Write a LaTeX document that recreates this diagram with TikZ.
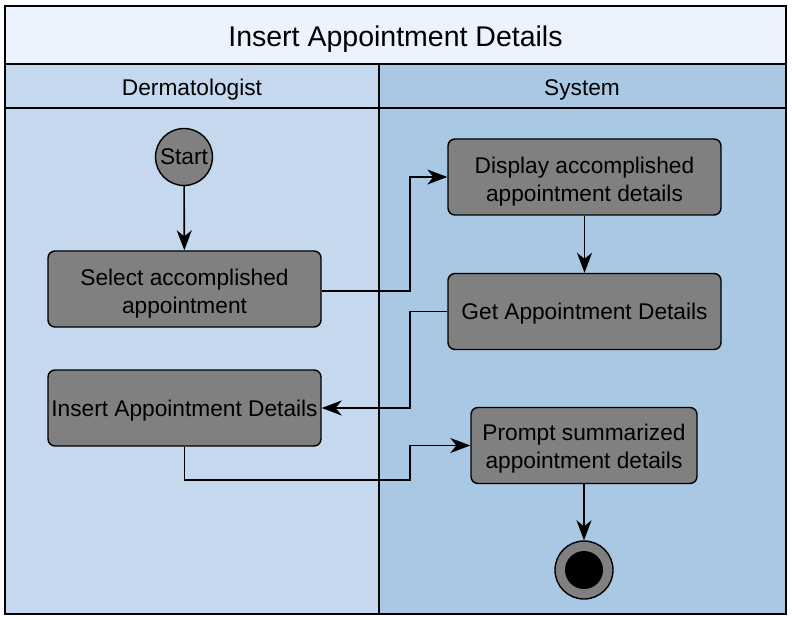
\documentclass[tikz,border=0pt]{standalone}
\usepackage{fontspec}
\setmainfont{Liberation Sans}
\usetikzlibrary{arrows.meta}
\definecolor{titlebg}{HTML}{EBF3FF}
\definecolor{leftlane}{HTML}{C5D8ED}
\definecolor{rightlane}{HTML}{A9C8E3}
\definecolor{actgray}{HTML}{808080}
\begin{document}
\begin{tikzpicture}[x=1pt,y=-1pt,
  act/.style={draw=black, line width=1.4pt, fill=actgray, rounded corners=7pt,
    minimum width=273pt, minimum height=76pt, inner sep=0pt},
  acttxt/.style={align=center, inner sep=0pt, font=\fontsize{22.7}{28}\selectfont},
  lanetxt/.style={font=\fontsize{22.7}{26}\selectfont},
  arr/.style={draw=black, line width=1.6pt, -{Stealth[length=20pt,width=15pt,inset=6pt]}},
  frame/.style={draw=black, line width=1.6pt}]
\useasboundingbox (0,0) rectangle (792,620);
% background areas
\fill[titlebg] (5,6) rectangle (786,64);
\fill[leftlane] (5,64) rectangle (379,614);
\fill[rightlane] (379,64) rectangle (786,614);
\draw[frame] (5,6) rectangle (786,614);
\draw[frame] (5,64) -- (786,64);
\draw[frame] (5,108) -- (786,108);
\draw[frame] (379,64) -- (379,614);
\node[font=\fontsize{28.5}{32}\selectfont] (title) at (395.5,39.5) {Insert Appointment Details};
\node[lanetxt] (lane1) at (192,90) {Dermatologist};
\node[lanetxt] (lane2) at (582,90) {System};
% nodes
\node[circle, draw=black, line width=1.4pt, fill=actgray, minimum size=57pt, inner sep=0pt,
  font=\fontsize{22.7}{26}\selectfont] (start) at (184,157) {Start};
\node[act] (sel) at (184.5,289) {};
\node[acttxt] (selt) at ([yshift=-4.5pt]sel.center) {Select accomplished\\appointment};
\node[act] (ins) at (184.5,408) {};
\node[acttxt] (inst) at ([yshift=-2.5pt]ins.center) {Insert Appointment Details};
\node[act] (disp) at (584.5,177) {};
\node[acttxt] (dispt) at ([yshift=-4.5pt]disp.center) {Display accomplished\\appointment details};
\node[act] (get) at (584.5,311.5) {};
\node[acttxt] (gett) at ([yshift=-2.5pt]get.center) {Get Appointment Details};
\node[act, minimum width=226pt] (prompt) at (584,445.5) {};
\node[acttxt] (promptt) at ([yshift=-3.5pt]prompt.center) {Prompt summarized\\appointment details};
\node[circle, draw=black, line width=1.4pt, fill=actgray, minimum size=58pt, inner sep=0pt] (end) at (584,570) {};
\node[circle, fill=black, minimum size=38pt, inner sep=0pt] (endin) at (end.center) {};
% connectors
\coordinate (k1) at (410,291);
\coordinate (k2) at (410,311.5);
\coordinate (k3) at (410,480);
\draw[arr] (start) -- (sel);
\draw[arr] (sel.east |- k1) -- (k1) |- (disp.west);
\draw[arr] (disp) -- (get);
\draw[arr] (get.west) -- (k2) |- (ins.east);
\draw[arr] (ins.south) |- (k3) |- (prompt.west);
\draw[arr] (prompt) -- (end);
\end{tikzpicture}
\end{document}
